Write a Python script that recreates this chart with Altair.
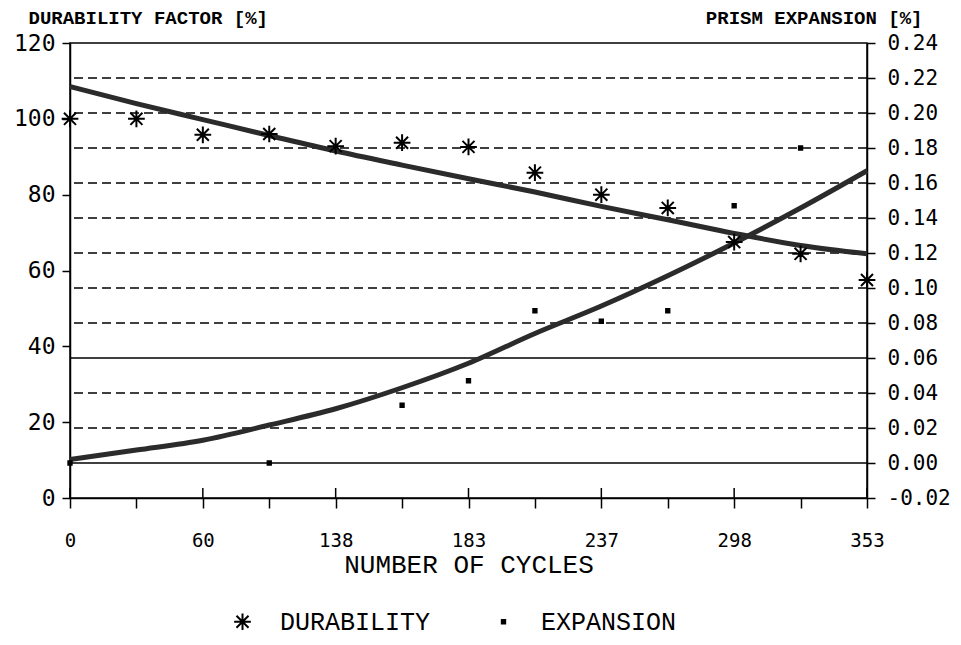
import altair as alt
import pandas as pd

# ---- data ----
test_index = list(range(13))
cycle_labels = ["0", "60", "138", "183", "237", "298", "353"]

durability = [100, 100, 95.8, 96, 92.8, 93.7, 92.6, 85.8, 80, 76.5, 67.5, 64.4, 57.5]
durability_trend = [108.5, 104.0, 99.8, 95.6, 91.5, 87.8, 84.2, 80.7, 76.9, 73.4, 69.8, 66.6, 64.4]

expansion = [0.0, None, None, 0.0, None, 0.033, 0.047, 0.087, 0.081, 0.087, 0.147, 0.18, None]
expansion_trend = [0.002, 0.0074, 0.013, 0.0217, 0.031, 0.043, 0.057, 0.074, 0.0897,
                   0.107, 0.1257, 0.1457, 0.167]

left_ticks = [0, 20, 40, 60, 80, 100, 120]
right_ticks = [-0.02, 0.0, 0.02, 0.04, 0.06, 0.08, 0.10, 0.12, 0.14, 0.16, 0.18, 0.20, 0.22, 0.24]
grid_dashed = [0.02, 0.04, 0.08, 0.10, 0.12, 0.14, 0.16, 0.18, 0.20, 0.22]
grid_solid = [0.0, 0.06]
series_names = ["DURABILITY", "EXPANSION"]

# ---- styling ----
W, H = 797, 455
MONO = "DejaVu Sans Mono"
TYPE = "Liberation Mono"
ASTERISK = "M0,-1L0,1M-1,0L1,0M-0.72,-0.72L0.72,0.72M-0.72,0.72L0.72,-0.72"
SQUARE = "M-0.2,-0.2L0.2,-0.2L0.2,0.2L-0.2,0.2Z M-0.2,0L0.2,0 M0,-0.2L0,0.2"

dur_df = pd.DataFrame({"idx": test_index, "value": durability,
                       "trend": durability_trend, "series": series_names[0]})
exp_df = pd.DataFrame({"idx": test_index, "value": expansion,
                       "trend": expansion_trend, "series": series_names[1]})
exp_pts = exp_df.dropna(subset=["value"])

x_scale = alt.Scale(domain=[0, 12], nice=False, zero=False)
left_scale = alt.Scale(domain=[0, 120], nice=False, zero=False)
right_scale = alt.Scale(domain=[-0.02, 0.24], nice=False, zero=False)

label_arr = "[" + ",".join("'" + s + "'" for s in cycle_labels) + "]"
x_axis = alt.Axis(
    values=test_index,
    labelExpr="datum.value % 2 == 0 ? " + label_arr + "[datum.value / 2] : ''",
    tickSize=10, tickColor="black", tickWidth=1.5,
    domainColor="black", domainWidth=1.5,
    labelFont=MONO, labelFontSize=19, labelColor="black", labelPadding=23,
    labelFlush=False, labelOverlap=False, grid=False,
    title="NUMBER OF CYCLES", titleFont=TYPE, titleFontSize=26,
    titleFontWeight="normal", titleColor="black", titleY=66, titleBaseline="middle",
)
left_axis = alt.Axis(
    values=left_ticks, tickSize=8, tickColor="black", tickWidth=1.5,
    domainColor="black", domainWidth=1.5, grid=False,
    labelFont=MONO, labelFontSize=23, labelColor="black", labelPadding=7,
    title="DURABILITY FACTOR [%]", titleAngle=0, titleX=-42, titleY=-26,
    titleAlign="left", titleBaseline="middle", titleFont=TYPE, titleFontSize=19,
    titleFontWeight="bold", titleColor="black",
)
right_axis = alt.Axis(
    orient="right", values=right_ticks, format=".2f",
    labelExpr="replace(datum.label, '\u2212', '-')",
    tickSize=8, tickColor="black",
    tickWidth=1.5, domainColor="black", domainWidth=1.5, grid=False,
    labelFont=MONO, labelFontSize=21, labelColor="black", labelPadding=12,
    title="PRISM EXPANSION [%]", titleAngle=0, titleX=55, titleY=-26,
    titleAlign="right", titleBaseline="middle", titleFont=TYPE, titleFontSize=19,
    titleFontWeight="bold", titleColor="black",
)

legend = alt.Legend(
    title=None, orient="none", direction="horizontal", legendX=160, legendY=566,
    labelFont=TYPE, labelFontSize=25, labelColor="black", labelOffset=25,
    labelLimit=400, columnPadding=60, symbolSize=280, symbolStrokeWidth=2,
    symbolStrokeColor="black",
)
shape_enc = alt.Shape("series:N", scale=alt.Scale(domain=series_names, range=[ASTERISK, SQUARE]),
                      legend=legend)

X = lambda: alt.X("idx:Q", scale=x_scale, axis=x_axis)

# ---- right (expansion) group ----
g_dash = alt.Chart(pd.DataFrame({"g": grid_dashed})).mark_rule(
    color="black", strokeWidth=1.4, strokeDash=[9, 5]
).encode(y=alt.Y("g:Q", scale=right_scale, axis=right_axis))
g_solid = alt.Chart(pd.DataFrame({"g": grid_solid})).mark_rule(
    color="black", strokeWidth=1.4
).encode(y=alt.Y("g:Q", scale=right_scale, axis=right_axis))
exp_line = alt.Chart(exp_df).mark_line(
    color="#2b2b2b", strokeWidth=5, interpolate="monotone"
).encode(
    x=X(),
    y=alt.Y("trend:Q", scale=right_scale, axis=right_axis),
)
exp_points = alt.Chart(exp_pts).mark_point(
    filled=False, stroke="black", strokeWidth=2, size=280, opacity=1
).encode(
    x=X(),
    y=alt.Y("value:Q", scale=right_scale, axis=right_axis),
    shape=shape_enc,
)
right_group = alt.layer(g_dash, g_solid, exp_line, exp_points)

# ---- left (durability) group ----
major_ext = alt.Chart(pd.DataFrame({"idx": test_index[::2]})).mark_rule(
    color="black", strokeWidth=1.5
).encode(
    x=X(),
    y=alt.value(H - 10), y2=alt.value(H),
)
dur_line = alt.Chart(dur_df).mark_line(
    color="#2b2b2b", strokeWidth=5, interpolate="monotone"
).encode(
    x=X(),
    y=alt.Y("trend:Q", scale=left_scale, axis=left_axis),
)
dur_points = alt.Chart(dur_df).mark_point(
    filled=False, stroke="black", strokeWidth=2, size=280, opacity=1
).encode(
    x=X(),
    y=alt.Y("value:Q", scale=left_scale, axis=left_axis),
    shape=shape_enc,
)
left_group = alt.layer(major_ext, dur_line, dur_points)

chart = alt.layer(right_group, left_group).resolve_scale(y="independent").properties(
    width=W, height=H, autosize=alt.AutoSizeParams(type="none"),
    padding={"left": 62, "top": 35, "right": 86, "bottom": 139},
    background="white",
).configure_view(stroke="black", strokeWidth=1.5)

chart.save("out.html", embed_options={"renderer": "svg", "actions": False})
